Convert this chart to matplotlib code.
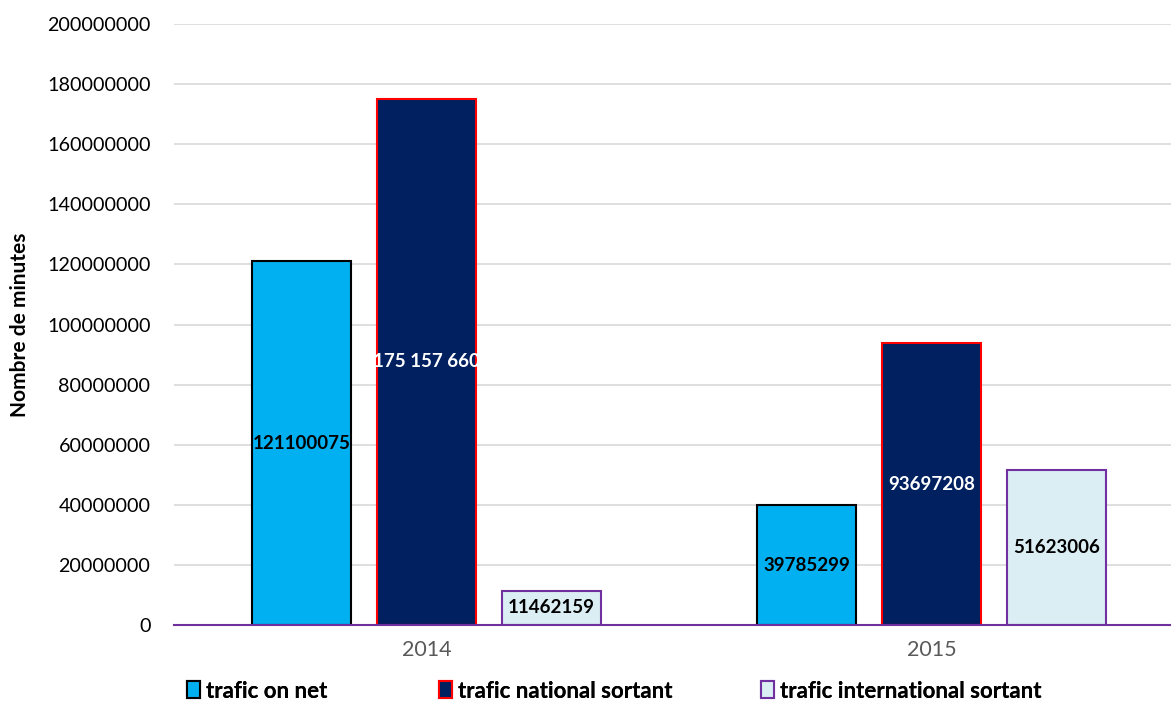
import numpy as np
import matplotlib.pyplot as plt
from matplotlib.patches import Patch

plt.rcParams["font.family"] = ["Lato", "DejaVu Sans"]

years = ["2014", "2015"]
series_names = ["trafic on net", "trafic national sortant", "trafic international sortant"]
on_net = [121100075, 39785299]
national = [175157660, 93697208]
international = [11462159, 51623006]
label_text = [
    ["121100075", "39785299"],
    ["175 157 660", "93697208"],
    ["11462159", "51623006"],
]

faces = ["#00B0F0", "#002060", "#DAEEF3"]
edges = ["#000000", "#FF0000", "#7030A0"]
label_colors = ["black", "white", "black"]

fig = plt.figure(figsize=(11.71, 7.01), dpi=100)
ax = fig.add_axes([174 / 1171, 76 / 701, 1010 / 1171, 601 / 701])

x = np.arange(len(years))
step, width = 0.2475, 0.196
for i, vals in enumerate([on_net, national, international]):
    pos = x + (i - 1) * step
    bars = ax.bar(pos, vals, width, color=faces[i], edgecolor=edges[i],
                  linewidth=1.5, zorder=3)
    for b, txt in zip(bars, label_text[i]):
        ax.text(b.get_x() + b.get_width() / 2, b.get_height() / 2, txt,
                ha="center", va="center", fontsize=13.5, fontweight="bold",
                color=label_colors[i], zorder=4)

ax.set_xlim(-0.5, 1.5)
ax.set_ylim(0, 200000000)
ax.set_yticks(np.arange(0, 200000001, 20000000))
ax.yaxis.set_major_formatter(plt.FuncFormatter(lambda v, p: f"{int(v)}"))
ax.set_xticks(x)
ax.set_xticklabels(years, color="#595959")
ax.tick_params(axis="y", labelsize=14.2, length=0, pad=17)
ax.tick_params(axis="x", labelsize=15.5, length=0, pad=11)
ax.grid(axis="y", color="#D9D9D9", lw=1.2, zorder=0)
for s in ["top", "right", "left"]:
    ax.spines[s].set_visible(False)
ax.spines["bottom"].set_color("#7030A0")
ax.spines["bottom"].set_linewidth(1.5)
ax.spines["bottom"].set_zorder(5)

fig.text(20 / 1171, 1 - 325 / 701, "Nombre de minutes", rotation=90,
         ha="center", va="center", fontsize=15, fontweight="bold")

# one legend per entry so each sits where the reference puts it
legend_x = [167, 419, 741]
for name, f, e, lx in zip(series_names, faces, edges, legend_x):
    leg = fig.legend([Patch(facecolor=f, edgecolor=e, linewidth=1.5)], [name],
                     loc="center left", bbox_to_anchor=(lx / 1171, 1 - 691 / 701),
                     frameon=False, prop={"size": 16, "weight": "bold"},
                     handlelength=0.6, handleheight=0.8, handletextpad=0.25)
    fig.add_artist(leg)

fig.savefig("out.png", dpi=100)
